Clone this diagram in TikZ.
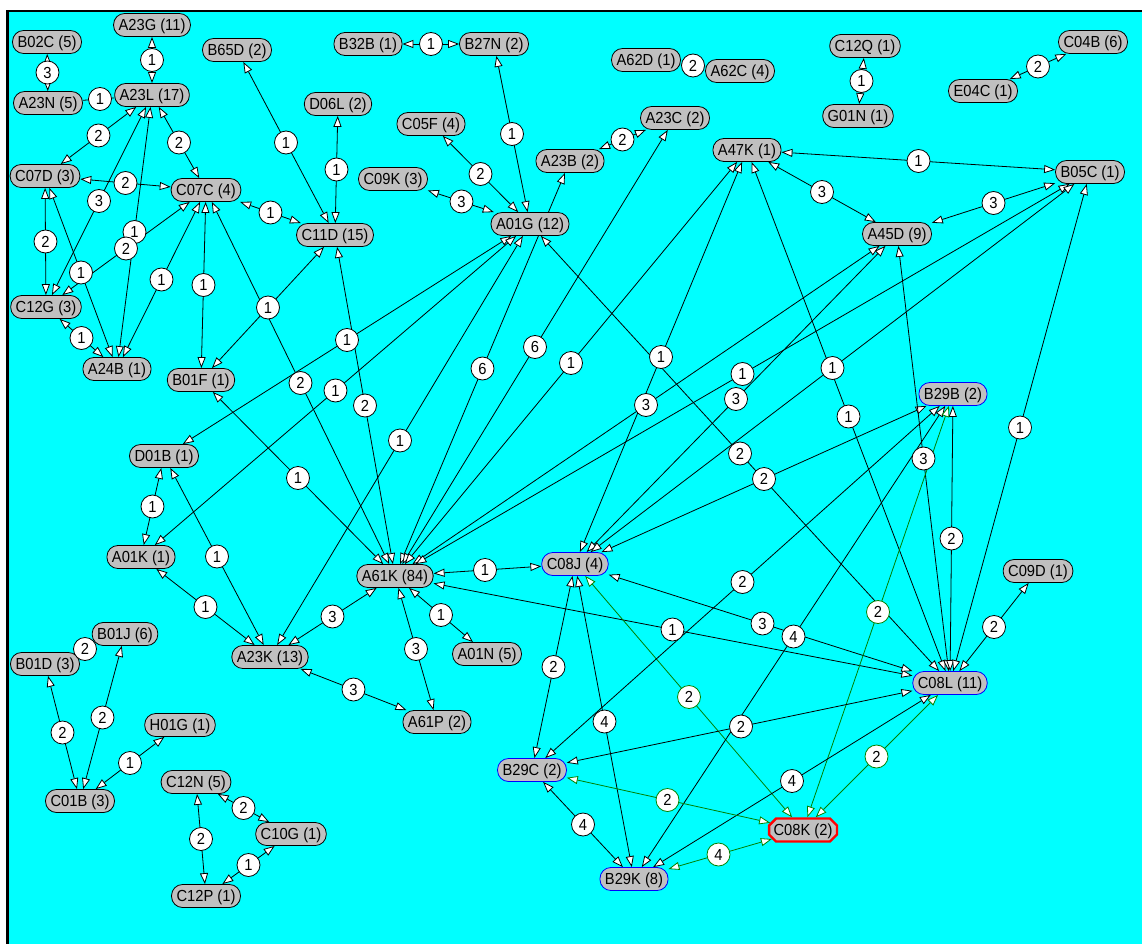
\documentclass[tikz,border=0pt]{standalone}
\usepackage{fontspec}
\newfontfamily\nf{Liberation Sans}[FakeStretch=0.92]
\usetikzlibrary{arrows.meta,calc,shapes.misc}
\pgfdeclarelayer{bg}
\pgfdeclarelayer{edges}
\pgfsetlayers{bg,edges,main}
\definecolor{cy}{RGB}{0,255,255}
\definecolor{ngray}{RGB}{192,192,192}
\definecolor{gr}{RGB}{0,128,0}
\definecolor{bl}{RGB}{0,0,255}
\definecolor{rd}{RGB}{255,0,0}
\tikzset{
  wt/.tip={Triangle[length=11pt,width=8pt,fill=white]},
  txt/.style={font=\nf\fontsize{16}{16}\selectfont, text height=11.5pt, text depth=0pt},
  nd/.style={txt, draw=black, line width=0.8pt, fill=ngray, rounded corners=11pt,
    minimum height=23pt, inner xsep=5pt, inner ysep=0pt},
  bnd/.style={nd, draw=bl},
  rnd/.style={txt, chamfered rectangle, chamfered rectangle xsep=3.5pt, chamfered rectangle ysep=3.5pt,
    draw=rd, line width=2.4pt, fill=ngray, minimum height=23pt, inner xsep=1pt, inner ysep=0pt},
  lb/.style={txt, circle, draw=black, fill=white, line width=0.8pt, minimum size=23pt, inner sep=0pt},
  glb/.style={lb, draw=gr},
  ed/.style={draw=black, line width=0.8pt, wt-wt},
  ged/.style={draw=gr, line width=0.8pt, wt-wt},
  ped/.style={draw=black, line width=0.8pt}
}
\newcommand\lk[3]{\begin{pgfonlayer}{edges}\draw[ed] (#1) -- (#2);\end{pgfonlayer}\node[lb] (L#1#2) at ($(#1)!0.5!(#2)$) {#3};}
\newcommand\gk[3]{\begin{pgfonlayer}{edges}\draw[ged] (#1) -- (#2);\end{pgfonlayer}\node[glb] (L#1#2) at ($(#1)!0.5!(#2)$) {#3};}
\newcommand\pk[3]{\begin{pgfonlayer}{edges}\draw[ped] (#1) -- (#2);\end{pgfonlayer}\node[lb] (L#1#2) at ($(#1)!0.5!(#2)$) {#3};}
\begin{document}
\begin{tikzpicture}[x=1pt,y=-1pt]
\useasboundingbox (0,0) rectangle (1142,944);
\begin{pgfonlayer}{bg}
\fill[white] (0,0) rectangle (1142,944);
\fill[black] (6,10) rectangle (1142,944);
\fill[cy] (8.5,12.5) rectangle (1142,944);
\end{pgfonlayer}
% nodes
\node[nd] (B02C) at (47,42) {B02C (5)};
\node[nd] (A23G) at (152,25) {A23G (11)};
\node[nd] (B65D) at (237,50) {B65D (2)};
\node[nd] (A23N) at (48,103) {A23N (5)};
\node[nd] (A23L) at (152,95) {A23L (17)};
\node[nd] (C07D) at (45,176) {C07D (3)};
\node[nd] (C07C) at (206,190) {C07C (4)};
\node[nd] (C12G) at (46,307) {C12G (3)};
\node[nd] (A24B) at (117,369) {A24B (1)};
\node[nd] (B01F) at (201,380) {B01F (1)};
\node[nd] (B32B) at (368,44) {B32B (1)};
\node[nd] (B27N) at (494,44) {B27N (2)};
\node[nd] (D06L) at (338,104) {D06L (2)};
\node[nd] (C05F) at (431,124) {C05F (4)};
\node[nd] (C09K) at (393,179) {C09K (3)};
\node[nd] (C11D) at (335,235) {C11D (15)};
\node[nd] (A01G) at (530,224) {A01G (12)};
\node[nd] (A62D) at (646,60) {A62D (1)};
\node[nd] (A62C) at (740,71) {A62C (4)};
\node[nd] (A23C) at (675,118) {A23C (2)};
\node[nd] (A23B) at (570,161) {A23B (2)};
\node[nd] (A47K) at (747,150) {A47K (1)};
\node[nd] (C12Q) at (865,46) {C12Q (1)};
\node[nd] (G01N) at (858,116) {G01N (1)};
\node[nd] (C04B) at (1093,42) {C04B (6)};
\node[nd] (E04C) at (983,91) {E04C (1)};
\node[nd] (B05C) at (1090,172) {B05C (1)};
\node[nd] (A45D) at (897,234) {A45D (9)};
\node[bnd] (B29B) at (953,394) {B29B (2)};
\node[nd] (C09D) at (1038,571) {C09D (1)};
\node[bnd] (C08L) at (950,683) {C08L (11)};
\node[nd] (D01B) at (164,456) {D01B (1)};
\node[nd] (A01K) at (141,557) {A01K (1)};
\node[nd] (A61K) at (395,576) {A61K (84)};
\node[bnd] (C08J) at (575,564) {C08J (4)};
\node[nd] (A01N) at (487,654) {A01N (5)};
\node[nd] (A23K) at (270,657) {A23K (13)};
\node[nd] (A61P) at (437,722) {A61P (2)};
\node[nd] (B01J) at (125,634) {B01J (6)};
\node[nd] (B01D) at (45,664) {B01D (3)};
\node[nd] (H01G) at (180,725) {H01G (1)};
\node[nd] (C01B) at (80,801) {C01B (3)};
\node[nd] (C12N) at (196,782) {C12N (5)};
\node[nd] (C10G) at (291,834) {C10G (1)};
\node[nd] (C12P) at (206,896) {C12P (1)};
\node[bnd] (B29C) at (532,770) {B29C (2)};
\node[rnd] (C08K) at (803,830) {C08K (2)};
\node[bnd] (B29K) at (634,879) {B29K (8)};
% links
\lk{B02C}{A23N}{3}
\lk{A23G}{A23L}{1}
\pk{A23N}{A23L}{1}
\lk{A23L}{C07D}{2}
\lk{A23L}{C07C}{2}
\lk{C07D}{C07C}{2}
\lk{A23L}{C12G}{3}
\lk{A23L}{A24B}{1}
\lk{C07C}{C12G}{2}
\lk{C07D}{C12G}{2}
\lk{C07D}{A24B}{1}
\lk{C07C}{A24B}{1}
\lk{C07C}{B01F}{1}
\lk{C07C}{A61K}{2}
\lk{C07C}{C11D}{1}
\lk{C12G}{A24B}{1}
\lk{B65D}{C11D}{1}
\lk{D06L}{C11D}{1}
\lk{C11D}{B01F}{1}
\lk{C11D}{A61K}{2}
\lk{B32B}{B27N}{1}
\lk{B27N}{A01G}{1}
\lk{C05F}{A01G}{2}
\lk{C09K}{A01G}{3}
\lk{A23B}{A23C}{2}
\pk{A62D}{A62C}{2}
\lk{C12Q}{G01N}{1}
\lk{C04B}{E04C}{2}
\lk{A47K}{B05C}{1}
\lk{A47K}{A45D}{3}
\lk{A45D}{B05C}{3}
\lk{A01G}{D01B}{1}
\lk{A01G}{A01K}{1}
\lk{A01G}{A23K}{1}
\lk{A01G}{C08L}{2}
\lk{A23B}{A61K}{6}
\lk{A23C}{A61K}{6}
\lk{A47K}{A61K}{1}
\lk{A45D}{A61K}{3}
\lk{B05C}{A61K}{1}
\lk{B01F}{A61K}{1}
\lk{D01B}{A01K}{1}
\lk{D01B}{A23K}{1}
\lk{A01K}{A23K}{1}
\lk{A61K}{A23K}{3}
\lk{A61K}{A01N}{1}
\lk{A61K}{A61P}{3}
\lk{A23K}{A61P}{3}
\lk{A61K}{C08J}{1}
\lk{A61K}{C08L}{1}
\lk{C08J}{A47K}{1}
\lk{C08J}{A45D}{3}
\lk{C08J}{B05C}{1}
\lk{C08J}{B29B}{2}
\lk{C08J}{C08L}{3}
\lk{C08J}{B29C}{2}
\lk{C08J}{B29K}{4}
\gk{C08J}{C08K}{2}
\lk{A47K}{C08L}{1}
\lk{A45D}{C08L}{3}
\lk{B29B}{C08L}{2}
\lk{B05C}{C08L}{1}
\lk{C09D}{C08L}{2}
\lk{B29C}{B29B}{2}
\lk{B29K}{B29B}{4}
\gk{B29B}{C08K}{2}
\gk{C08L}{C08K}{2}
\lk{B29C}{C08L}{2}
\lk{B29K}{C08L}{4}
\gk{B29C}{C08K}{2}
\lk{B29C}{B29K}{4}
\gk{B29K}{C08K}{4}
\pk{B01D}{B01J}{2}
\lk{B01D}{C01B}{2}
\lk{B01J}{C01B}{2}
\lk{H01G}{C01B}{1}
\lk{C12N}{C10G}{2}
\lk{C12N}{C12P}{2}
\lk{C10G}{C12P}{1}
\end{tikzpicture}
\end{document}
